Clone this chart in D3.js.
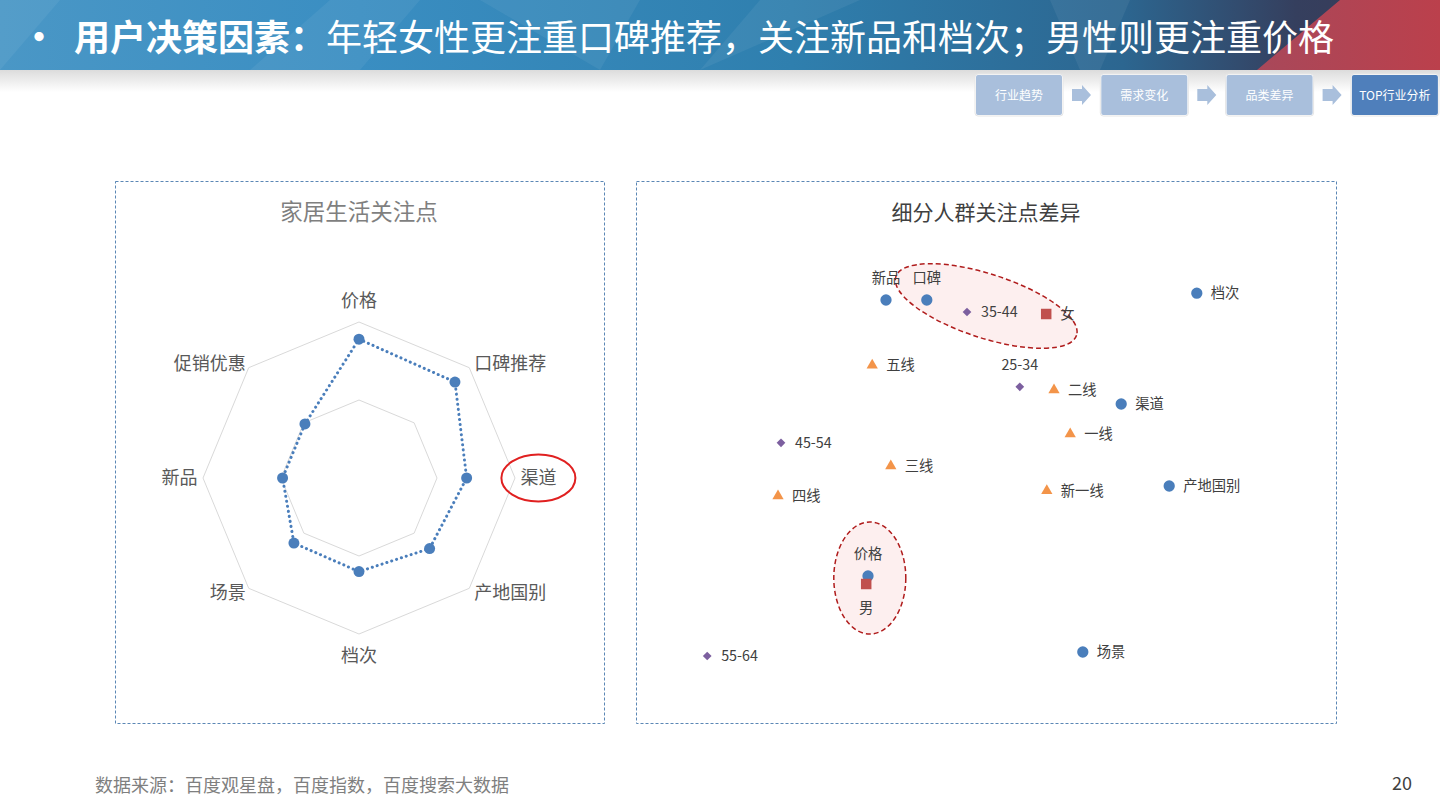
<!DOCTYPE html>
<html>
<head>
<meta charset="utf-8">
<script src="https://cdn.jsdelivr.net/npm/d3@7"></script>
<style>
html,body{margin:0;padding:0;background:#fff;}
svg{display:block;font-family:"Microsoft YaHei","Noto Sans CJK SC","Noto Sans",sans-serif;}
</style>
</head>
<body>
<svg id="chart" width="1440" height="810"></svg>
<script>
// ---------- data ----------
const pageTitleBold = "用户决策因素：";
const pageTitleRest = "年轻女性更注重口碑推荐，关注新品和档次；男性则更注重价格";
const navItems = ["行业趋势", "需求变化", "品类差异", "TOP行业分析"];
const sourceText = "数据来源：百度观星盘，百度指数，百度搜索大数据";
const pageNumber = "20";

const radarTitle = "家居生活关注点";
const radarAxes = ["价格", "口碑推荐", "渠道", "产地国别", "档次", "场景", "新品", "促销优惠"];
const radarValues = [89, 87, 69, 64, 60, 59, 49, 49];
const radarRings = [50, 100];

const scatterTitle = "细分人群关注点差异";
const attrNames = ["新品", "口碑", "档次", "渠道", "产地国别", "价格", "场景"];
const attrX = [31, 37.8, 82.8, 70.2, 78.2, 28, 63.8];
const attrY = [92.5, 92.5, 94.2, 66.5, 46, 23.5, 4.5];
const ageNames = ["35-44", "25-34", "45-54", "55-64"];
const ageX = [44.5, 53.3, 13.5, 1.2];
const ageY = [89.5, 70.8, 56.8, 3.5];
const cityNames = ["五线", "二线", "一线", "三线", "四线", "新一线"];
const cityX = [28.7, 59, 61.7, 31.8, 13, 57.8];
const cityY = [76.2, 70, 59, 51, 43.5, 44.8];
const genderNames = ["女", "男"];
const genderX = [57.7, 27.7];
const genderY = [89, 21.5];

// ---------- setup ----------
const svg = d3.select("#chart");
const defs = svg.append("defs");

// header banner
const bg = defs.append("linearGradient").attr("id","bannerGrad").attr("x1","0").attr("x2","1").attr("y1","0").attr("y2","0");
bg.append("stop").attr("offset","0").attr("stop-color","#4a97c6");
bg.append("stop").attr("offset","0.25").attr("stop-color","#3a8ec2");
bg.append("stop").attr("offset","0.55").attr("stop-color","#2f7fae");
bg.append("stop").attr("offset","0.78").attr("stop-color","#2c6690");
bg.append("stop").attr("offset","0.9").attr("stop-color","#353f5e");
bg.append("stop").attr("offset","1").attr("stop-color","#3a3a55");
svg.append("rect").attr("x",0).attr("y",0).attr("width",1440).attr("height",70).attr("fill","url(#bannerGrad)");
const facets = [
  [[0,0],[60,0],[0,70]],
  [[250,70],[330,0],[420,0],[360,70]],
  [[480,0],[640,0],[600,70]],
  [[700,70],[760,0],[860,0]],
  [[1050,0],[1130,0],[1100,70],[1080,70]]
];
svg.selectAll("path.facet").data(facets).enter().append("path")
  .attr("d", d => "M" + d.map(p=>p.join(",")).join("L") + "Z")
  .attr("fill","#ffffff").attr("opacity",0.06);
const rg = defs.append("linearGradient").attr("id","redGrad").attr("x1","0").attr("x2","1");
rg.append("stop").attr("offset","0").attr("stop-color","#a8485a");
rg.append("stop").attr("offset","1").attr("stop-color","#bb404c");
svg.append("path").attr("d","M1340,0 L1440,0 L1440,70 L1257,70 Z").attr("fill","url(#redGrad)");

// shadow under banner
const sg = defs.append("linearGradient").attr("id","shadowGrad").attr("x1","0").attr("x2","0").attr("y1","0").attr("y2","1");
sg.append("stop").attr("offset","0").attr("stop-color","#dcdcdc");
sg.append("stop").attr("offset","1").attr("stop-color","#ffffff");
svg.append("rect").attr("x",0).attr("y",70).attr("width",1440).attr("height",22).attr("fill","url(#shadowGrad)");

// title
const t = svg.append("text").attr("x",21).attr("y",51).attr("fill","#fff").attr("font-size",36);
t.append("tspan").attr("font-weight","bold").text("•");
t.append("tspan").attr("x",74).attr("font-weight","bold").text(pageTitleBold);
t.append("tspan").text(pageTitleRest);

// nav
const navW = 86;
const navG = svg.append("g");
navItems.forEach((n,i) => {
  const x = 976 + i*125.3;
  navG.append("rect").attr("x",x-1).attr("y",74).attr("width",navW+2).attr("height",42).attr("rx",3)
    .attr("fill","#ffffff").attr("stroke","#e6e6e6");
  navG.append("rect").attr("x",x).attr("y",75).attr("width",navW).attr("height",40).attr("rx",2)
    .attr("fill", i===3 ? "#4f7fbb" : "#a9bfdc");
  navG.append("text").attr("x",x+navW/2).attr("y",99.5).attr("text-anchor","middle")
    .attr("fill","#fff").attr("font-size",12).text(n);
  if (i<3) {
    const ax = x + navW + 10;
    navG.append("path").attr("d",`M${ax},89 L${ax+10},89 L${ax+10},85 L${ax+19},95 L${ax+10},105 L${ax+10},101 L${ax},101 Z`)
      .attr("fill","#a9bfdc");
  }
});

// panels
function panel(x,y,w,h){
  svg.append("rect").attr("x",x+0.5).attr("y",y+0.5).attr("width",w).attr("height",h)
    .attr("fill","none").attr("stroke","#5b87b5").attr("stroke-width",1).attr("stroke-dasharray","3,2");
}
panel(115,181,489,542);
panel(636,181,700,542);

// ---------- radar ----------
const cx = 359, cy = 478;
const rScale = d3.scaleLinear().domain([0,100]).range([0,156]);
const angle = i => (i/radarAxes.length)*2*Math.PI;
const rg2 = svg.append("g").attr("transform",`translate(${cx},${cy})`);
const ringLine = d3.lineRadial().angle((d,i)=>angle(i)).radius(d=>rScale(d)).curve(d3.curveLinearClosed);
radarRings.forEach(r => {
  rg2.append("path").attr("d", ringLine(radarAxes.map(()=>r)))
    .attr("fill","none").attr("stroke","#d9d9d9").attr("stroke-width",1);
});
rg2.append("path").attr("d", ringLine(radarValues))
  .attr("fill","none").attr("stroke","#4a7ebb").attr("stroke-width",3)
  .attr("stroke-dasharray","0.1,5").attr("stroke-linecap","round");
rg2.selectAll("circle.rp").data(radarValues).enter().append("circle")
  .attr("cx",(d,i)=>rScale(d)*Math.sin(angle(i)))
  .attr("cy",(d,i)=>-rScale(d)*Math.cos(angle(i)))
  .attr("r",5.5).attr("fill","#4a7ebb");
radarAxes.forEach((a,i) => {
  const ang = angle(i);
  const s = Math.sin(ang), c = Math.cos(ang);
  let x, y, anchor;
  if (Math.abs(s) < 0.01) { x = 0; y = -c*rScale(114); anchor="middle"; }
  else if (Math.abs(c) < 0.01) { x = s*rScale(115); y = 0; anchor="middle"; }
  else { x = s*rScale(100) + (s>0?5:-3); y = -c*rScale(100) + (c>0?-4:4); anchor = s>0?"start":"end"; }
  rg2.append("text").attr("x",x).attr("y",y).attr("dy","0.36em").attr("text-anchor",anchor)
    .attr("fill","#595959").attr("font-size",18).text(a);
});
rg2.append("ellipse").attr("cx",rScale(115)).attr("cy",0).attr("rx",37).attr("ry",23.5)
  .attr("fill","none").attr("stroke","#e02020").attr("stroke-width",2);
svg.append("text").attr("x",cx).attr("y",212).attr("dy","0.36em").attr("text-anchor","middle")
  .attr("fill","#7f7f7f").attr("font-size",22.5).text(radarTitle);

// ---------- scatter ----------
const xS = d3.scaleLinear().domain([0,100]).range([700,1300]);
const yS = d3.scaleLinear().domain([0,100]).range([670,270]);
svg.append("text").attr("x",986).attr("y",212).attr("dy","0.36em").attr("text-anchor","middle")
  .attr("fill","#404040").attr("font-size",21).text(scatterTitle);

const e1 = {x:47.7, y:91, rx:95, ry:32, rot:18};
const e2 = {x:28.3, y:23, rx:36, ry:56, rot:0};
[e1,e2].forEach(e => {
  svg.append("ellipse")
    .attr("transform",`translate(${xS(e.x)},${yS(e.y)}) rotate(${e.rot})`)
    .attr("rx",e.rx).attr("ry",e.ry)
    .attr("fill","#fdecec").attr("fill-opacity",0.85)
    .attr("stroke","#b01c1c").attr("stroke-width",1.5).attr("stroke-dasharray","5,3");
});

function series(names, xs, ys, type, size, color, rot) {
  return names.map((n,i)=>({name:n, x:xs[i], y:ys[i], type, size, color, rot:rot||0}));
}
const pts = [].concat(
  series(attrNames, attrX, attrY, d3.symbolCircle, 100, "#4a7ebb"),
  series(ageNames, ageX, ageY, d3.symbolSquare, 38, "#7c5f9f", 45),
  series(cityNames, cityX, cityY, d3.symbolTriangle, 55, "#f39449"),
  series(genderNames, genderX, genderY, d3.symbolSquare, 110, "#c0504d")
);
svg.selectAll("path.pt").data(pts).enter().append("path")
  .attr("transform", d=>`translate(${xS(d.x)},${yS(d.y)}) rotate(${d.rot})`)
  .attr("d", d=>d3.symbol().type(d.type).size(d.size)()).attr("fill", d=>d.color);

const above = {"新品":1, "口碑":1, "25-34":1, "价格":1};
const below = {"男":1};
svg.selectAll("text.pl").data(pts).enter().append("text")
  .attr("x", d => (above[d.name]||below[d.name]) ? xS(d.x) : xS(d.x)+14)
  .attr("y", d => above[d.name] ? yS(d.y)-22 : below[d.name] ? yS(d.y)+24 : yS(d.y))
  .attr("dy","0.36em")
  .attr("text-anchor", d => (above[d.name]||below[d.name]) ? "middle" : "start")
  .attr("fill","#404040").attr("font-size",14.3).text(d=>d.name);

// ---------- footer ----------
svg.append("text").attr("x",95).attr("y",786).attr("dy","0.36em").attr("fill","#7f7f7f").attr("font-size",18).text(sourceText);
svg.append("text").attr("x",1402).attr("y",784).attr("dy","0.36em").attr("text-anchor","middle").attr("fill","#404040").attr("font-size",18).text(pageNumber);
</script>
</body>
</html>
